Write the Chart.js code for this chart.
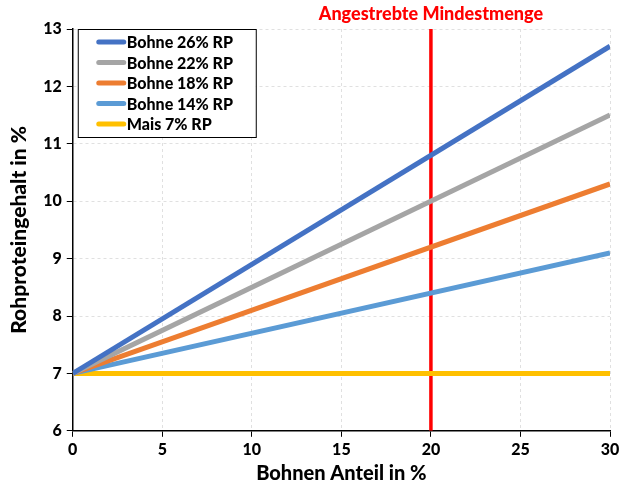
<!DOCTYPE html>
<html>
<head>
<meta charset="utf-8">
<script src="https://cdn.jsdelivr.net/npm/chart.js@4"></script>
<style>
  body { margin: 0; background: #fff; }
  #wrap { width: 626px; height: 488px; }
</style>
</head>
<body>
<div id="wrap"><canvas id="chart"></canvas></div>
<script>
const xValues = [0, 30];
const seriesNames = ["Bohne 26% RP", "Bohne 22% RP", "Bohne 18% RP", "Bohne 14% RP", "Mais 7% RP"];
const bohne26 = [7, 12.7];
const bohne22 = [7, 11.5];
const bohne18 = [7, 10.3];
const bohne14 = [7, 9.1];
const mais7 = [7, 7];
const targetX = [20, 20];
const targetY = [6, 13];
const targetLabel = "Angestrebte Mindestmenge";

const colors = ["#4472C4", "#A5A5A5", "#ED7D31", "#5B9BD5", "#FFC000"];
const seriesValues = [bohne26, bohne22, bohne18, bohne14, mais7];

const fontFamily = "Lato, 'Open Sans', sans-serif";
const heavy = "900";

const datasets = seriesValues.map((vals, i) => ({
    label: seriesNames[i],
    data: xValues.map((x, j) => ({ x: x, y: vals[j] })),
    borderColor: colors[i],
    backgroundColor: colors[i],
    borderWidth: 5,
    pointRadius: 0,
    showLine: true
}));

datasets.push({
    label: targetLabel,
    data: targetX.map((x, j) => ({ x: x, y: targetY[j] })),
    borderColor: "#FF0000",
    borderWidth: 3.5,
    pointRadius: 0,
    showLine: true
});

const customLegend = {
    id: "customLegend",
    afterDraw(chart) {
        const ctx = chart.ctx;
        const area = chart.chartArea;
        const xs = chart.scales.x;

        // red caption above the target line
        ctx.save();
        ctx.fillStyle = "#FF0000";
        ctx.font = heavy + " 18px " + fontFamily;
        ctx.textAlign = "center";
        ctx.textBaseline = "middle";
        ctx.fillText(targetLabel, xs.getPixelForValue(targetX[0]), 14);

        // legend box
        const bx = area.left + 5, by = area.top, bw = 178, bh = 108;
        ctx.fillStyle = "#fff";
        ctx.fillRect(bx, by, bw, bh);
        ctx.strokeStyle = "#000";
        ctx.lineWidth = 1;
        ctx.strokeRect(bx + 0.5, by + 0.5, bw, bh);

        ctx.font = heavy + " 16px " + fontFamily;
        ctx.textAlign = "left";
        ctx.lineCap = "round";
        seriesNames.forEach((name, i) => {
            const y = by + 13 + i * 20.5;
            ctx.strokeStyle = colors[i];
            ctx.lineWidth = 5;
            ctx.beginPath();
            ctx.moveTo(bx + 21, y);
            ctx.lineTo(bx + 46, y);
            ctx.stroke();
            ctx.fillStyle = "#000";
            ctx.fillText(name, bx + 49, y + 1);
        });
        ctx.restore();
    }
};

new Chart(document.getElementById("chart"), {
    type: "scatter",
    data: { datasets: datasets },
    options: {
        responsive: true,
        maintainAspectRatio: false,
        animation: false,
        layout: { padding: { top: 29, right: 16, bottom: 2, left: 7 } },
        plugins: {
            legend: { display: false },
            tooltip: { enabled: false }
        },
        scales: {
            x: {
                type: "linear",
                min: 0,
                max: 30,
                ticks: { stepSize: 5, color: "#000", font: { family: fontFamily, size: 16, weight: heavy }, padding: 3 },
                grid: { color: "#e0e0e0", tickColor: "#000", tickLength: 6, tickBorderDash: [] },
                border: { color: "#000", width: 1.5, dash: [3, 3] },
                title: { display: true, text: "Bohnen Anteil in %", color: "#000", font: { family: fontFamily, size: 20, weight: heavy }, padding: { top: 0, bottom: 0 } }
            },
            y: {
                min: 6,
                max: 13,
                ticks: { stepSize: 1, color: "#000", font: { family: fontFamily, size: 16, weight: heavy }, padding: 5 },
                grid: { color: "#e0e0e0", tickColor: "#000", tickLength: 6, tickBorderDash: [] },
                border: { color: "#000", width: 1.5, dash: [3, 3] },
                title: { display: true, text: "Rohproteingehalt in %", color: "#000", font: { family: fontFamily, size: 21, weight: heavy }, padding: { top: 0, bottom: 6 } }
            }
        }
    },
    plugins: [customLegend]
});
</script>
</body>
</html>
